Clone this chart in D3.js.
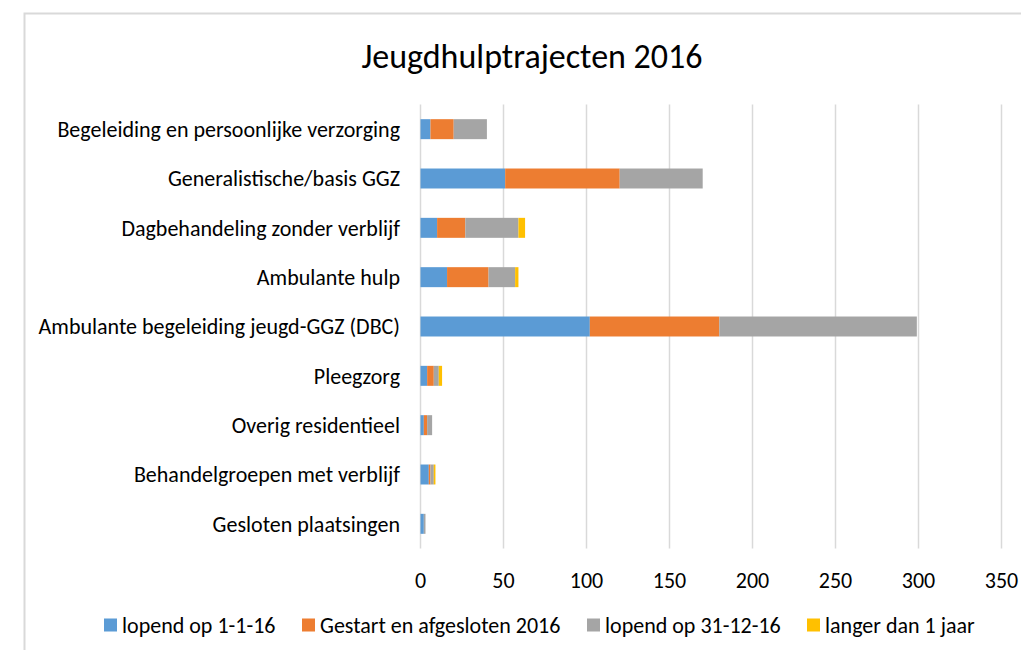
<!DOCTYPE html>
<html>
<head>
<meta charset="utf-8">
<script src="https://cdn.jsdelivr.net/npm/d3@7"></script>
<style>
  body { margin: 0; background: #fff; }
  text { font-family: Carlito, Calibri, "Open Sans", sans-serif; fill: #000; }
</style>
</head>
<body>
<script>
// categories, top to bottom
const categories = [
	'Begeleiding en persoonlijke verzorging',
	'Generalistische/basis GGZ',
	'Dagbehandeling zonder verblijf',
	'Ambulante hulp',
	'Ambulante begeleiding jeugd-GGZ (DBC)',
	'Pleegzorg',
	'Overig residentieel',
	'Behandelgroepen met verblijf',
	'Gesloten plaatsingen'
];
const lopendBegin = [6, 51, 10, 16, 102, 4, 2, 5, 2];
const gestartAfgesloten = [14, 69, 17, 25, 78, 4, 2, 1, 0];
const lopendEind = [20, 50, 32, 16, 119, 3, 3, 2, 1];
const langerDanJaar = [0, 0, 4, 2, 0, 2, 0, 1, 0];

const seriesNames = ['lopend op 1-1-16', 'Gestart en afgesloten 2016', 'lopend op 31-12-16', 'langer dan 1 jaar'];
const seriesColors = ['#5B9BD5', '#ED7D31', '#A5A5A5', '#FFC000'];
const xTicks = [0, 50, 100, 150, 200, 250, 300, 350];

const width = 1021, height = 650;

const rows = categories.map((c, i) => ({
	cat: c,
	s0: lopendBegin[i],
	s1: gestartAfgesloten[i],
	s2: lopendEind[i],
	s3: langerDanJaar[i]
}));
const stacked = d3.stack().keys(['s0', 's1', 's2', 's3'])(rows);

const svg = d3.select('body').append('svg')
	.attr('width', width)
	.attr('height', height);

// chart frame (runs off the right and bottom)
svg.append('rect')
	.attr('x', 24.5).attr('y', 13.5)
	.attr('width', 1100).attr('height', 700)
	.attr('fill', 'none')
	.attr('stroke', '#d9d9d9')
	.attr('stroke-width', 2);

const x = d3.scaleLinear().domain([0, 350]).range([420.5, 1001.5]);
const y = d3.scaleBand().domain(categories).range([104.5, 548.5])
	.paddingInner(0.595).paddingOuter(0.2975);

// gridlines
svg.append('g')
	.selectAll('line')
	.data(xTicks)
	.join('line')
		.attr('x1', d => x(d)).attr('x2', d => x(d))
		.attr('y1', 104.5).attr('y2', 548.5)
		.attr('stroke', '#d9d9d9')
		.attr('stroke-width', 1.5);

// bars
svg.append('g')
	.selectAll('g')
	.data(stacked)
	.join('g')
		.attr('fill', (d, i) => seriesColors[i])
	.selectAll('rect')
	.data(d => d)
	.join('rect')
		.attr('x', d => x(d[0]))
		.attr('y', d => y(d.data.cat))
		.attr('width', d => x(d[1]) - x(d[0]))
		.attr('height', y.bandwidth());

// category labels
svg.append('g')
	.selectAll('text')
	.data(categories)
	.join('text')
		.attr('x', 400)
		.attr('y', d => y(d) + y.bandwidth() / 2)
		.attr('dy', '0.35em')
		.attr('text-anchor', 'end')
		.attr('font-size', 22)
		.text(d => d);

// x tick labels
svg.append('g')
	.selectAll('text')
	.data(xTicks)
	.join('text')
		.attr('x', d => x(d))
		.attr('y', 580)
		.attr('dy', '0.35em')
		.attr('text-anchor', 'middle')
		.attr('font-size', 22)
		.text(d => d);

// title
svg.append('text')
	.attr('x', 532)
	.attr('y', 56)
	.attr('dy', '0.35em')
	.attr('text-anchor', 'middle')
	.attr('font-size', 34)
	.text('Jeugdhulptrajecten 2016');

// legend
const legendX = [104, 302, 587, 807];
const legend = svg.append('g')
	.selectAll('g')
	.data(seriesNames)
	.join('g')
		.attr('transform', (d, i) => `translate(${legendX[i]}, 625)`);
legend.append('rect')
	.attr('x', 0).attr('y', -6.5)
	.attr('width', 13).attr('height', 13)
	.attr('fill', (d, i) => seriesColors[i]);
legend.append('text')
	.attr('x', 18)
	.attr('dy', '0.35em')
	.attr('font-size', 22)
	.text(d => d);
</script>
</body>
</html>
